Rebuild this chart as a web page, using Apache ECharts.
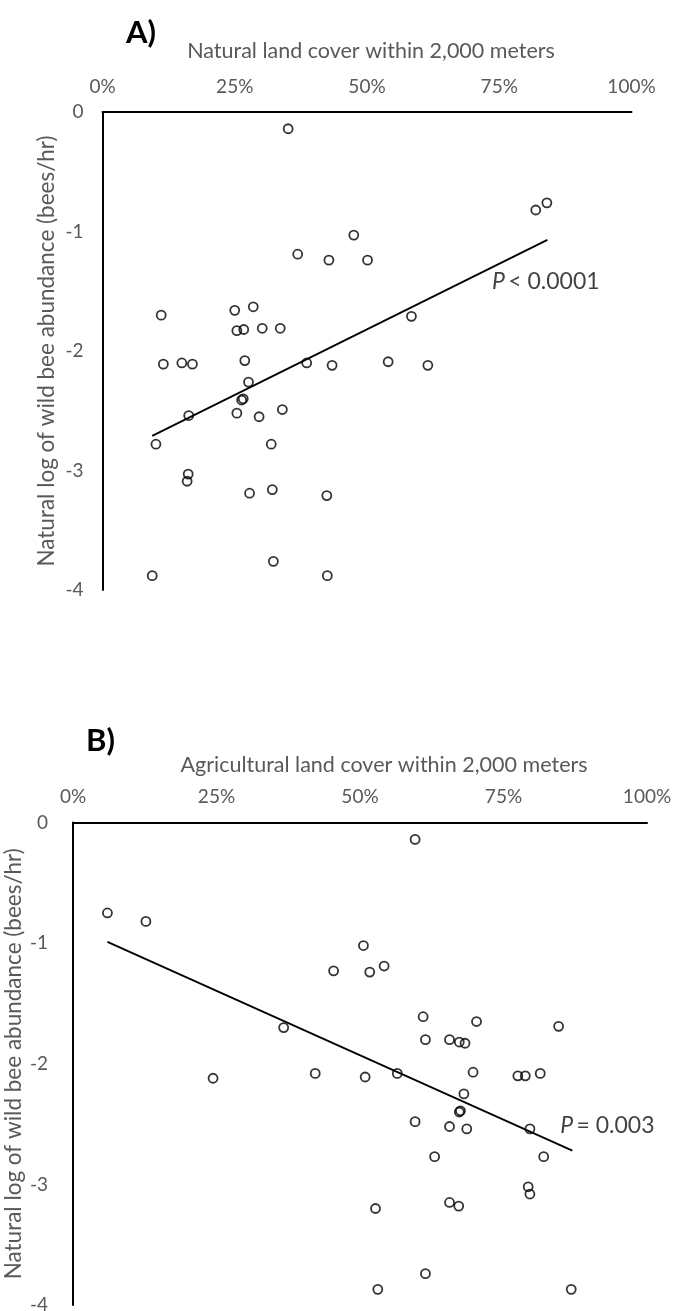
<!DOCTYPE html>
<html>
<head>
<meta charset="utf-8">
<script src="https://cdn.jsdelivr.net/npm/echarts@6/dist/echarts.min.js"></script>
<style>
  html, body { margin: 0; padding: 0; background: #fff; }
  #chart { width: 674px; height: 1311px; }
</style>
</head>
<body>
<div id="chart"></div>
<script>
// panel A: natural land cover (%) vs ln(bees/hr)
const natX = [35.1, 47.5, 36.9, 42.8, 50.1, 11.1, 25.0, 28.5, 25.4, 26.7, 30.2, 33.6, 81.9, 84.0, 58.4, 43.4, 54.0, 61.5, 38.6, 11.5,
  15.0, 17.0, 26.9, 27.6, 26.3, 26.6, 25.4, 29.6, 34.0, 16.3, 10.1, 31.9, 16.2, 16.0, 27.8, 32.1, 42.4, 32.3, 9.4, 42.5]
const natY = [-0.14, -1.03, -1.19, -1.24, -1.24, -1.70, -1.66, -1.63, -1.83, -1.82, -1.81, -1.81, -0.82, -0.76, -1.71, -2.12, -2.09, -2.12, -2.10, -2.11,
  -2.10, -2.11, -2.08, -2.26, -2.41, -2.40, -2.52, -2.55, -2.49, -2.54, -2.78, -2.78, -3.03, -3.09, -3.19, -3.16, -3.21, -3.76, -3.88, -3.88]
const natTrendX = [9.4, 84.1]
const natTrendY = [-2.71, -1.07]

// panel B: agricultural land cover (%) vs ln(bees/hr)
const agrX = [6.0, 12.7, 50.6, 45.4, 51.7, 54.2, 36.7, 59.6, 61.0, 70.3, 84.6, 61.4, 65.6, 67.3, 68.3, 50.9, 56.5, 69.7, 77.5, 78.8,
  81.4, 68.1, 67.3, 67.5, 59.6, 65.6, 68.6, 79.6, 63.0, 82.0, 79.3, 79.6, 52.7, 65.6, 67.2, 61.4, 53.1, 86.8, 24.4, 42.2]
const agrY = [-0.75, -0.82, -1.02, -1.23, -1.24, -1.19, -1.70, -0.14, -1.61, -1.65, -1.69, -1.80, -1.80, -1.82, -1.83, -2.11, -2.08, -2.07, -2.10, -2.10,
  -2.08, -2.25, -2.40, -2.39, -2.48, -2.52, -2.54, -2.54, -2.77, -2.77, -3.02, -3.08, -3.20, -3.15, -3.18, -3.74, -3.87, -3.87, -2.12, -2.08]
const agrTrendX = [6.0, 87.0]
const agrTrendY = [-0.99, -2.72]

// p-value labels, anchored in data coordinates
const pLabelA = { x: 83.8, y: -1.42, op: '<', val: '0.0001' }
const pLabelB = { x: 93.1, y: -2.51, op: '=', val: '0.003' }

const yName = 'Natural log of wild bee abundance (bees/hr)'
const grey = '#595959'
const font = 'Lato'

const zip = (xs, ys) => xs.map((x, i) => [x, ys[i]])

const makeX = (gridIndex) => ({
  type: 'value',
  gridIndex,
  position: 'top',
  min: 0,
  max: 100,
  interval: 25,
  axisLine: { show: true, onZero: false, lineStyle: { color: '#000', width: 2 } },
  axisTick: { show: false },
  splitLine: { show: false },
  axisLabel: {
    formatter: '{value}%',
    color: grey,
    fontFamily: font,
    fontSize: 19,
    margin: 16
  }
})

const makeY = (gridIndex, labelMargin, nameGap) => ({
  type: 'value',
  gridIndex,
  min: -4,
  max: 0,
  interval: 1,
  name: yName,
  nameLocation: 'middle',
  nameRotate: 90,
  nameGap,
  nameMoveOverlap: false,
  nameTextStyle: { color: grey, fontFamily: font, fontSize: 22.5 },
  axisLine: { show: true, onZero: false, lineStyle: { color: '#000', width: 2 } },
  axisTick: { show: false },
  splitLine: { show: false },
  axisLabel: { color: grey, fontFamily: font, fontSize: 19, margin: labelMargin }
})

const dots = (xAxisIndex, data) => ({
  type: 'scatter',
  xAxisIndex,
  yAxisIndex: xAxisIndex,
  data,
  symbol: 'circle',
  symbolSize: 9,
  itemStyle: { color: 'rgba(0,0,0,0)', borderColor: '#000', borderWidth: 1.8 },
  z: 3
})

const trend = (xAxisIndex, data) => ({
  type: 'line',
  xAxisIndex,
  yAxisIndex: xAxisIndex,
  data,
  showSymbol: false,
  lineStyle: { color: '#000', width: 1.8 },
  z: 2
})

const pText = (xAxisIndex, p) => ({
  type: 'scatter',
  xAxisIndex,
  yAxisIndex: xAxisIndex,
  data: [[p.x, p.y]],
  symbolSize: 0,
  silent: true,
  label: {
    show: true,
    position: 'inside',
    formatter: '{i|P} {n|' + p.op + ' ' + p.val + '}',
    rich: {
      i: { fontFamily: font, fontSize: 23, fontStyle: 'italic', color: '#111' },
      n: { fontFamily: font, fontSize: 23, color: '#111' }
    }
  }
})

const chart = echarts.init(document.getElementById('chart'), null, { renderer: 'canvas' })

chart.setOption({
  animation: false,
  backgroundColor: '#fff',
  title: [
    { text: 'A)', left: 121, top: 12, textStyle: { fontFamily: font, fontSize: 31, fontWeight: 'bold', color: '#000' } },
    { text: 'Natural land cover within 2,000 meters', left: 366, top: 35, textAlign: 'center',
      textStyle: { fontFamily: font, fontSize: 21.5, fontWeight: 'normal', color: grey } },
    { text: 'B)', left: 81, top: 720, textStyle: { fontFamily: font, fontSize: 31, fontWeight: 'bold', color: '#000' } },
    { text: 'Agricultural land cover within 2,000 meters', left: 379, top: 749, textAlign: 'center',
      textStyle: { fontFamily: font, fontSize: 21.5, fontWeight: 'normal', color: grey } }
  ],
  grid: [
    { left: 102.5, top: 112, width: 529, height: 478, containLabel: false, outerBoundsMode: 'none' },
    { left: 73, top: 822.5, width: 574, height: 482.5, containLabel: false, outerBoundsMode: 'none' }
  ],
  xAxis: [makeX(0), makeX(1)],
  yAxis: [makeY(0, 19, 44), makeY(1, 25, 48)],
  series: [
    trend(0, zip(natTrendX, natTrendY)),
    dots(0, zip(natX, natY)),
    pText(0, pLabelA),
    trend(1, zip(agrTrendX, agrTrendY)),
    dots(1, zip(agrX, agrY)),
    pText(1, pLabelB)
  ]
})
</script>
</body>
</html>
